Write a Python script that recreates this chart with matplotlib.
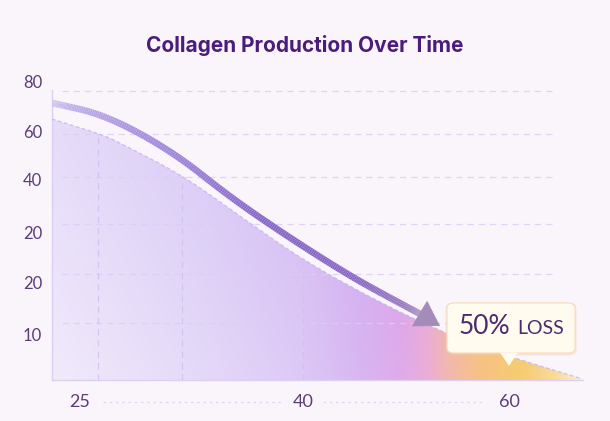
import numpy as np
import matplotlib
matplotlib.use("Agg")
import matplotlib.pyplot as plt
from matplotlib.colors import LinearSegmentedColormap
from matplotlib.collections import LineCollection
from matplotlib.patches import FancyBboxPatch, Polygon, FancyArrowPatch

# ---------------- data ----------------
age = [22.72, 27.0, 28.27, 33.32, 38.05, 42.95, 47.84, 52.74, 57.63, 61.71, 65.95]
collagen = [71.5, 67.0, 64.9, 56.2, 44.9, 33.4, 24.1, 15.9, 9.0, 4.7, 0.3]

trend_age = [22.72, 27.1, 32.6, 37.24, 42.13, 47.03, 50.29, 52.74]
trend_val = [75.9, 72.6, 62.5, 50.1, 38.9, 28.5, 22.5, 18.1]
trend_tip = (54.37, 14.8)

xtick_labels = ["25", "40", "60"]
ytick_labels = ["10", "20", "20", "40", "60", "80"]
title = "Collagen Production Over Time"
callout_big = "50%"
callout_small = "LOSS"


def smooth(xs, ys, iters=5):
    """Chaikin corner cutting for a smooth rendering of the read points."""
    p = np.column_stack([xs, ys]).astype(float)
    for _ in range(iters):
        q = 0.75 * p[:-1] + 0.25 * p[1:]
        r = 0.25 * p[:-1] + 0.75 * p[1:]
        mid = np.empty((2 * len(q), 2))
        mid[0::2] = q
        mid[1::2] = r
        p = np.vstack([p[0], mid, p[-1]])
    return p[:, 0], p[:, 1]


# ---------------- layout ----------------
W, H = 610, 421
fig = plt.figure(figsize=(W / 100, H / 100), dpi=100)
bg = "#faf5fb"
fig.patch.set_facecolor(bg)

ax = fig.add_axes([52 / W, (H - 380) / H, 538 / W, 306.6 / H])
ax.set_facecolor("none")

xtick_pos = [25, 43.2, 60]
ytick_pos = [12.6, 26.6, 40.5, 54.8, 68.2, 81.9]

for s in ["top", "right"]:
    ax.spines[s].set_visible(False)
for s in ["left", "bottom"]:
    ax.spines[s].set_color("#dcd0f2")
    ax.spines[s].set_linewidth(1.0)
ax.spines["left"].set_bounds(0, 79.5)
ax.spines["bottom"].set_bounds(22.72, 66.0)

ax.set_xticks(xtick_pos)
ax.set_xticklabels(xtick_labels)
ax.set_yticks(ytick_pos)
ax.set_yticklabels(ytick_labels)
ax.tick_params(axis="both", length=0, colors="#5b3d78")
ax.tick_params(axis="y", pad=7, labelsize=12)
ax.tick_params(axis="x", pad=10, labelsize=13)
for lab in ax.get_xticklabels() + ax.get_yticklabels():
    lab.set_fontfamily("Lato")

grid_c = "#dccdf6"
for gy in [79.2, 67.4, 55.6, 42.7, 29.0, 15.6]:
    ax.plot([23.5, 63.6], [gy, gy], color=grid_c, lw=0.9, ls=(0, (5, 4)), zorder=3, alpha=0.85)

# ---------------- gradient area ----------------
sx, sy = smooth(age, collagen)
x0, x1 = age[0], age[-1]
stops_px = [(52, "#e6dcf9"), (200, "#dacbf6"), (300, "#d5bdf4"), (360, "#d2abf0"),
            (400, "#dba2e8"), (425, "#e9a6d6"), (450, "#f2b4a6"), (480, "#f6c080"),
            (520, "#f6ca6e"), (555, "#f9da98"), (582, "#fcefd0")]
cmap = LinearSegmentedColormap.from_list(
    "area", [((p - 52) / 530, c) for p, c in stops_px])
nx, ny = 500, 200
xf = np.linspace(0, 1, nx)
yf = np.linspace(0, 1, ny)
XX, YY = np.meshgrid(xf, yf)
rgb = cmap(XX)[..., :3]
whiten = 0.55 * (1 - XX) ** 1.5 * (1 - YY) ** 1.2
rgb = rgb * (1 - whiten[..., None]) + np.array([0.98, 0.96, 0.99]) * whiten[..., None]
img = ax.imshow(rgb, extent=[x0, x1, 0, 75], origin="lower", aspect="auto",
                zorder=1, interpolation="bilinear")
poly = ax.fill_between(sx, sy, 0, color="none", lw=0)
img.set_clip_path(poly.get_paths()[0], transform=ax.transData)
ax.set_xlim(22.72, 66.6)
ax.set_ylim(0, 84)

ax.plot(sx, sy, color="#c2b2ef", lw=0.9, ls=(0, (3, 2)), zorder=4, alpha=0.8)

for gx in [26.47, 33.32, 43.19]:
    top = np.interp(gx, sx, sy)
    ax.plot([gx, gx], [0, top], color="#d2c0f0", lw=0.9, ls=(0, (5, 4)), zorder=3, alpha=0.85)

# ---------------- trend arrow ----------------
tx, tv = smooth(trend_age, trend_val)
pts = np.column_stack([tx, tv]).reshape(-1, 1, 2)
segs = np.concatenate([pts[:-1], pts[1:]], axis=1)
lc_cmap = LinearSegmentedColormap.from_list(
    "trend", ["#d0c6f2", "#a892e0", "#8769ca", "#8a68c3", "#9c7db8"])
cols = lc_cmap(np.linspace(0, 1, len(segs)))
lc = LineCollection(segs, colors=cols, linewidths=4.8, capstyle="butt", joinstyle="round", zorder=5)
ax.add_collection(lc)
arr = FancyArrowPatch((tx[-1], tv[-1]), trend_tip,
                      arrowstyle="-|>,head_length=1.0,head_width=0.62",
                      mutation_scale=16.5, facecolor="#a48cb8", edgecolor="#a48cb8",
                      lw=0.6, zorder=6, shrinkA=0, shrinkB=0)
ax.add_patch(arr)

for a, b in [(26.9, 41.6), (44.8, 58.0)]:
    ax.plot([a, b], [-6.0, -6.0], color="#e0d4f5", lw=0.9, ls=(0, (2, 3)),
            clip_on=False, zorder=2)

# ---------------- title ----------------
fig.text(305 / W, 1 - 45 / H, title, ha="center", va="center",
         fontsize=15, fontweight="bold", color="#4a1c7c", fontfamily="Inter")

# ---------------- callout ----------------
bx0, by0, bw, bh = 447, 303, 128, 50
shadow = FancyBboxPatch(((bx0 - 1.5) / W, 1 - (by0 + bh + 2.5) / H), (bw + 3) / W, (bh + 3) / H,
                        boxstyle="round,pad=0,rounding_size=0.014", transform=fig.transFigure,
                        facecolor="#f6c8a8", edgecolor="none", alpha=0.4, zorder=6)
fig.add_artist(shadow)
box = FancyBboxPatch((bx0 / W, 1 - (by0 + bh) / H), bw / W, bh / H,
                     boxstyle="round,pad=0,rounding_size=0.012", transform=fig.transFigure,
                     facecolor="#fffbef", edgecolor="#f8dcc0", lw=0.8, zorder=7)
fig.add_artist(box)
tri = Polygon([(500 / W, 1 - 352.5 / H), (518 / W, 1 - 352.5 / H), (509 / W, 1 - 366 / H)],
              closed=True, transform=fig.transFigure, facecolor="#fffbef",
              edgecolor="none", zorder=7)
fig.add_artist(tri)
fig.text(459 / W, 1 - 334 / H, callout_big, ha="left", va="baseline", fontsize=19,
         color="#4e2a6e", fontfamily="Lato", zorder=8)
fig.text(517 / W, 1 - 334 / H, callout_small, ha="left", va="baseline", fontsize=14,
         color="#4e2a6e", fontfamily="Lato", zorder=8)

fig.savefig("out.png", dpi=100, facecolor=bg)
